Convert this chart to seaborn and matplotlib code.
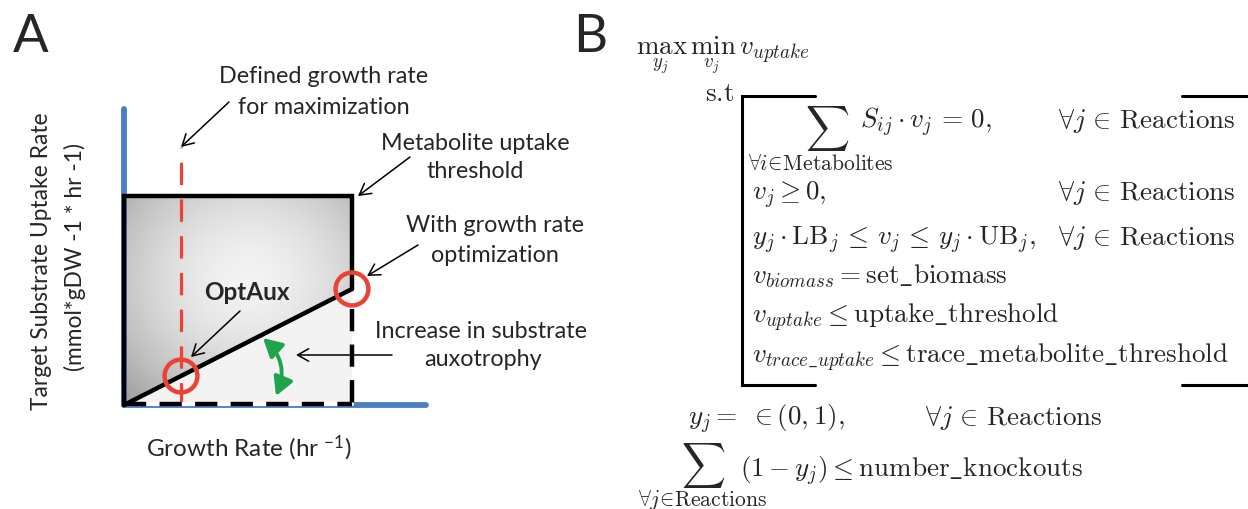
import numpy as np
import matplotlib
matplotlib.use("Agg")
import matplotlib.pyplot as plt
import seaborn as sns
import pandas as pd
from matplotlib.patches import Polygon, FancyArrowPatch

# ---------------- data (panel A, schematic units) ----------------
growth_max = 1.0            # growth rate at metabolite uptake threshold corner
uptake_threshold = 1.0      # metabolite uptake threshold
defined_growth = 0.25       # defined growth rate for maximization
optimized_uptake = 0.555    # uptake at max growth with growth rate optimization
growth_axis_end = 1.325
uptake_axis_end = 1.416
red_line_top = 1.234
dashed_right_top = 0.46

optaux_growth = [defined_growth]
optaux_uptake = [optimized_uptake * defined_growth]
opt_growth = [growth_max]
opt_uptake = [optimized_uptake]

# ---------------- style ----------------
sns.set_theme(style="white")
plt.rcParams['font.family'] = ['Lato', 'DejaVu Sans']
plt.rcParams['mathtext.fontset'] = 'custom'
plt.rcParams['mathtext.rm'] = 'Lato'
plt.rcParams['mathtext.it'] = 'Lato:italic'

W, H, DPI = 1248, 510, 100
fig = plt.figure(figsize=(W / DPI, H / DPI), dpi=DPI)
fig.patch.set_facecolor("white")

BLUE = "#4a7fc4"
RED = "#ea4335"
GREEN = "#1ea54c"

# panel A axes: (0,0) at pixel (124,406), (1,1) at pixel (352,197)
axA = fig.add_axes([0, 0, 620 / W, 1])
sx, sy = 228.0, 209.0
x0p, y0p = 124.0, 510 - 406.0
axA.set_xlim(-x0p / sx, (620 - x0p) / sx)
axA.set_ylim(-y0p / sy, (510 - y0p) / sy)
axA.axis("off")

# gradient fill above the min-uptake line
gx = np.linspace(0, 1, 300)
gy = np.linspace(0, 1, 300)
GX, GY = np.meshgrid(gx, gy)
r = np.sqrt(((GX - 0.55) / 0.72) ** 2 + ((GY - 0.60) / 0.72) ** 2)
Z = 0.95 - 0.28 * np.clip(r, 0, 1.25) ** 1.7
img = axA.imshow(Z, extent=[0, 1, 0, 1], origin="lower", cmap="gray",
                 vmin=0, vmax=1, aspect="auto", zorder=1, interpolation="bilinear")
clip_poly = Polygon([(0, 0), (0, uptake_threshold), (growth_max, uptake_threshold),
                     (growth_max, optimized_uptake)], closed=True, transform=axA.transData,
                    facecolor="none", edgecolor="none")
axA.add_patch(clip_poly)
img.set_clip_path(clip_poly)

# light fill below the line
axA.add_patch(Polygon([(0, 0), (growth_max, optimized_uptake), (growth_max, 0)],
                      closed=True, facecolor="#f3f3f3", edgecolor="none", zorder=1))

# blue axes
axA.plot([0, 0], [0, uptake_axis_end], color=BLUE, lw=4.2, solid_capstyle="round", zorder=2)
axA.plot([0, growth_axis_end], [0, 0], color=BLUE, lw=4.2, solid_capstyle="round", zorder=2)

# red dashed defined growth line
axA.plot([defined_growth, defined_growth], [0, red_line_top], color=RED, lw=2.3,
         dashes=(7, 4.5), zorder=3)

# box edges
lift = 1.5 / sy
axA.plot([0, 0, growth_max, growth_max], [0, uptake_threshold, uptake_threshold, optimized_uptake],
         color="black", lw=3.2, solid_joinstyle="miter", zorder=4)
axA.plot([0.01, growth_max], [lift, lift], color="white", lw=3.0, zorder=3.5)
axA.plot([0, growth_max], [lift, lift], color="black", lw=3.2, dashes=(5, 3), zorder=4)
axA.plot([growth_max, growth_max], [dashed_right_top, 0], color="black", lw=3.2,
         dashes=(5, 3), zorder=4)

# min uptake line
line_df = pd.DataFrame({"growth": [0, growth_max], "uptake": [0, optimized_uptake]})
sns.lineplot(data=line_df, x="growth", y="uptake", ax=axA, color="black", lw=3.2,
             zorder=5, legend=False)

# circles
pts = pd.DataFrame({"growth": optaux_growth + opt_growth, "uptake": optaux_uptake + opt_uptake})
sns.scatterplot(data=pts, x="growth", y="uptake", ax=axA, s=560, marker="o",
                facecolor="none", edgecolor=RED, linewidth=3.2, zorder=6, legend=False)
axA.axis("off")

def px(xp, yp):
    return ((xp - x0p) / sx, (510 - yp - y0p) / sy)

# annotations
fs = 16.8
def arrow(p_from, p_to, lw=1.1):
    axA.add_patch(FancyArrowPatch(px(*p_from), px(*p_to), arrowstyle="->,head_length=8,head_width=4.5",
                                  color="black", lw=lw, zorder=7, shrinkA=0, shrinkB=0))

axA.text(*px(324, 77), "Defined growth rate", ha="center", va="center", fontsize=fs)
axA.text(*px(324, 107), "for maximization", ha="center", va="center", fontsize=fs)
arrow((229, 103), (181, 148))

axA.text(*px(475, 143), "Metabolite uptake", ha="center", va="center", fontsize=fs)
axA.text(*px(475, 172), "threshold", ha="center", va="center", fontsize=fs)
arrow((410, 158), (358, 197))

axA.text(*px(495, 226), "With growth rate", ha="center", va="center", fontsize=fs)
axA.text(*px(495, 255), "optimization", ha="center", va="center", fontsize=fs)
arrow((418, 246), (367, 277))

axA.text(*px(247, 293), "OptAux", ha="center", va="center", fontsize=17.5, fontweight="bold", zorder=8)
arrow((240, 312), (191, 358))

axA.text(*px(481, 332), "Increase in substrate", ha="center", va="center", fontsize=fs)
axA.text(*px(483, 360), "auxotrophy", ha="center", va="center", fontsize=fs)
arrow((392, 356), (296, 356))

axA.add_patch(FancyArrowPatch(px(263, 339), px(276, 397), connectionstyle="arc3,rad=-0.35",
                              arrowstyle="<|-|>,head_length=11,head_width=6", color=GREEN,
                              lw=2.8, zorder=7, shrinkA=0, shrinkB=0))

axA.text(*px(42, 261), "Target Substrate Uptake Rate", rotation=90, ha="center", va="center",
         fontsize=16.4)
axA.text(*px(75, 257), "(mmol*gDW -1 * hr -1)", rotation=90, ha="center", va="center",
         fontsize=16.4)
axA.text(*px(249, 448), r"Growth Rate (hr $^{-1}$)", ha="center", va="center", fontsize=17.5)

axA.text(*px(31, 38), "A", ha="center", va="center", fontsize=38)
axA.text(*px(590, 38), "B", ha="center", va="center", fontsize=38)

# ---------------- panel B ----------------
axB = fig.add_axes([0, 0, 1, 1], facecolor="none")
axB.set_xlim(0, W)
axB.set_ylim(H, 0)
axB.axis("off")

fsB = 19.5
def mt(x, y, s, ha="left", fs=fsB):
    axB.text(x, y, s, ha=ha, va="baseline", fontsize=fs, math_fontfamily="cm")

reactions = r"$\forall j \,\in\, \mathrm{Reactions}$"
mt(636, 55, r"$\max_{y_j}\,\min_{v_j}\,v_{uptake}$")
mt(705, 101, r"$\mathrm{s.\!t}$")

# bracket
bl, bt, bb = 742, 97, 386
axB.plot([815, bl, bl, 815], [bt, bt, bb, bb], color="black", lw=2.2, solid_joinstyle="miter")
axB.plot([1182, 1248], [bt, bt], color="black", lw=2.2)
axB.plot([1182, 1248], [bb, bb], color="black", lw=2.2)

mt(827, 139, r"$\sum$", ha="center", fs=22)
mt(821, 170, r"$\forall i\!\in\!\mathrm{Metabolites}$", ha="center", fs=15.5)
mt(860, 128, r"$S_{ij}\cdot v_j \,=\, 0,$")
mt(1058, 128, reactions)

mt(752, 200, r"$v_j \geq 0,$")
mt(1058, 200, reactions)

mt(752, 245, r"$y_j\cdot\mathrm{LB}_j \,\leq\, v_j \,\leq\, y_j\cdot\mathrm{UB}_j,$")
mt(1058, 245, reactions)

mt(752, 283, r"$v_{biomass} = \mathrm{set\_biomass}$")
mt(752, 323, r"$v_{uptake} \leq \mathrm{uptake\_threshold}$")
mt(752, 363, r"$v_{trace\_uptake} \leq \mathrm{trace\_metabolite\_threshold}$")

mt(688, 425, r"$y_j =\ \in (0,1),$")
mt(925, 425, reactions)

mt(703, 476, r"$\sum$", ha="center", fs=22)
mt(702, 506, r"$\forall j\!\in\!\mathrm{Reactions}$", ha="center", fs=15.5)
mt(740, 477, r"$(1 - y_j) \leq \mathrm{number\_knockouts}$")

fig.savefig("out.png", dpi=DPI, facecolor="white")
